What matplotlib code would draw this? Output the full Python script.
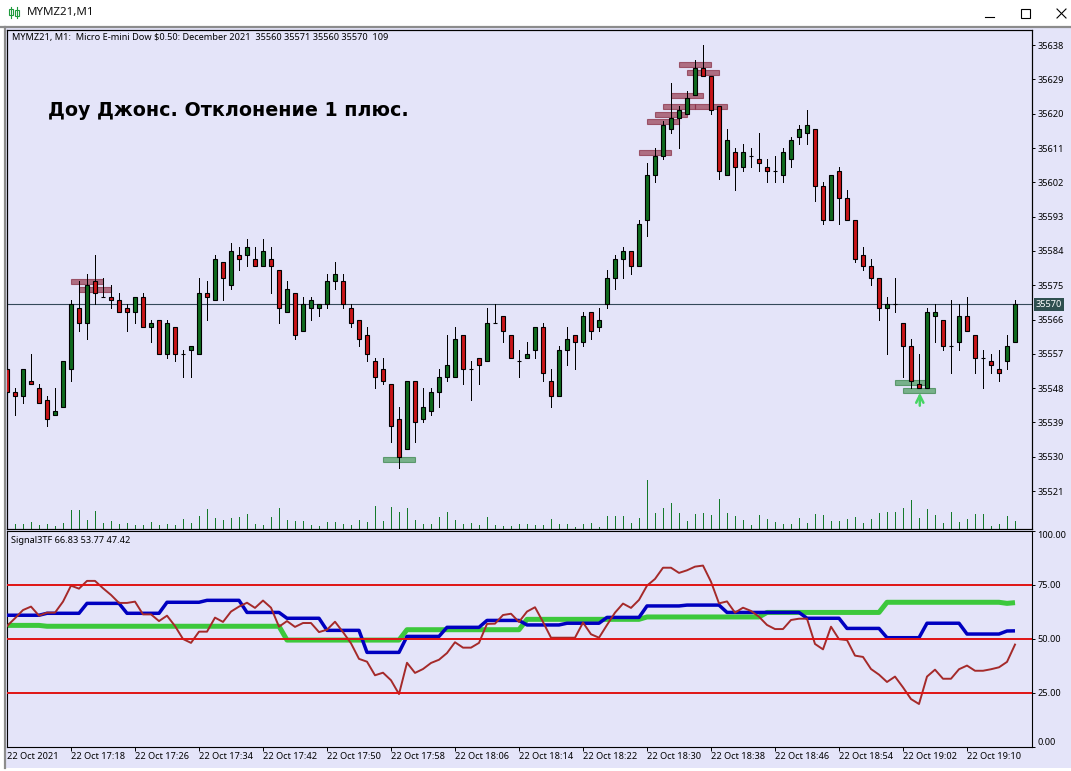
import matplotlib
matplotlib.use('Agg')
import matplotlib.pyplot as plt
from matplotlib.patches import Rectangle

plt.rcParams['font.family'] = ['Noto Sans', 'DejaVu Sans']

# candles, one per minute
opens = [35553, 35547, 35546, 35550, 35548, 35545, 35541, 35543, 35553, 35569,
         35565, 35576, 35572, 35572, 35571, 35569, 35568, 35572, 35564, 35566,
         35557, 35564, 35557, 35558, 35557, 35573, 35571, 35581, 35575, 35583,
         35583, 35582, 35580, 35582, 35579, 35568, 35573, 35563, 35569, 35569,
         35570, 35576, 35576, 35569, 35566, 35562, 35555, 35553, 35549, 35540,
         35532, 35550, 35540, 35542, 35547, 35551, 35551, 35562, 35553, 35556,
         35555, 35565, 35567, 35562, 35555, 35556, 35558, 35564, 35550, 35546,
         35558, 35562, 35560, 35568, 35564, 35570, 35577, 35582, 35584, 35580,
         35592, 35604, 35609, 35616, 35619, 35620, 35625, 35632, 35630, 35622,
         35604, 35610, 35606, 35609, 35608, 35606, 35605, 35604, 35608, 35614,
         35615, 35616, 35601, 35592, 35605, 35598, 35592, 35583, 35580, 35577,
         35569, 35570, 35565, 35559, 35549, 35548, 35567, 35566, 35559, 35560,
         35567, 35562, 35556, 35555, 35553, 35555, 35560]
highs = [35553, 35548, 35553, 35557, 35549, 35546, 35548, 35555, 35571, 35576,
         35578, 35583, 35577, 35575, 35573, 35570, 35572, 35573, 35566, 35566,
         35566, 35564, 35558, 35559, 35577, 35576, 35583, 35581, 35586, 35585,
         35587, 35585, 35587, 35585, 35579, 35576, 35573, 35572, 35572, 35570,
         35578, 35581, 35578, 35570, 35566, 35564, 35556, 35556, 35549, 35543,
         35550, 35550, 35548, 35548, 35553, 35562, 35564, 35562, 35555, 35556,
         35569, 35570, 35567, 35562, 35558, 35560, 35564, 35565, 35553, 35559,
         35564, 35562, 35568, 35568, 35569, 35579, 35583, 35585, 35584, 35592,
         35607, 35611, 35618, 35628, 35622, 35626, 35634, 35638, 35630, 35622,
         35616, 35611, 35612, 35611, 35615, 35608, 35609, 35611, 35614, 35617,
         35621, 35616, 35602, 35604, 35606, 35600, 35592, 35585, 35582, 35577,
         35572, 35577, 35565, 35561, 35557, 35569, 35570, 35566, 35571, 35570,
         35572, 35562, 35558, 35557, 35558, 35562, 35571]
lows = [35547, 35541, 35544, 35549, 35544, 35538, 35541, 35543, 35550, 35563,
        35561, 35570, 35572, 35569, 35568, 35563, 35565, 35564, 35560, 35557,
        35556, 35555, 35551, 35551, 35557, 35566, 35571, 35571, 35574, 35579,
        35580, 35580, 35580, 35573, 35565, 35568, 35561, 35563, 35566, 35567,
        35569, 35574, 35569, 35564, 35559, 35555, 35548, 35549, 35534, 35527,
        35532, 35534, 35539, 35541, 35543, 35550, 35551, 35549, 35545, 35549,
        35555, 35565, 35560, 35556, 35551, 35556, 35556, 35550, 35543, 35546,
        35554, 35553, 35559, 35561, 35563, 35569, 35574, 35577, 35578, 35580,
        35588, 35602, 35608, 35615, 35611, 35620, 35625, 35630, 35620, 35603,
        35604, 35600, 35605, 35606, 35605, 35602, 35602, 35602, 35606, 35612,
        35612, 35597, 35591, 35592, 35591, 35592, 35581, 35579, 35575, 35566,
        35557, 35568, 35551, 35548, 35548, 35548, 35560, 35558, 35552, 35558,
        35563, 35552, 35548, 35552, 35550, 35553, 35560]
closes = [35547, 35546, 35553, 35549, 35544, 35540, 35542, 35555, 35570, 35565,
          35575, 35573, 35572, 35571, 35568, 35568, 35572, 35564, 35565, 35557,
          35565, 35557, 35557, 35559, 35573, 35572, 35582, 35577, 35584, 35582,
          35585, 35580, 35584, 35580, 35569, 35574, 35562, 35570, 35571, 35570,
          35576, 35578, 35570, 35565, 35561, 35557, 35551, 35550, 35538, 35530,
          35550, 35539, 35543, 35547, 35551, 35554, 35561, 35553, 35553, 35554,
          35565, 35565, 35563, 35556, 35555, 35557, 35564, 35552, 35546, 35558,
          35561, 35560, 35567, 35563, 35566, 35577, 35582, 35584, 35580, 35591,
          35604, 35609, 35617, 35619, 35621, 35624, 35632, 35630, 35621, 35605,
          35613, 35606, 35610, 35609, 35607, 35605, 35605, 35610, 35613, 35616,
          35617, 35601, 35592, 35604, 35598, 35592, 35582, 35580, 35577, 35569,
          35570, 35570, 35559, 35550, 35548, 35568, 35568, 35559, 35559, 35567,
          35563, 35556, 35556, 35554, 35552, 35559, 35570]
volumes = [68, 68, 68, 100, 54, 68, 45, 82, 263, 263,
           123, 245, 82, 109, 68, 82, 54, 54, 100, 54,
           68, 54, 136, 82, 177, 277, 154, 123, 154, 168,
           209, 68, 54, 168, 291, 123, 109, 109, 54, 45,
           100, 100, 68, 54, 123, 100, 313, 113, 304, 236,
           291, 123, 68, 68, 168, 236, 123, 68, 86, 54,
           168, 54, 45, 45, 68, 68, 54, 54, 141, 68,
           68, 32, 68, 82, 32, 177, 177, 177, 82, 154,
           672, 222, 291, 359, 222, 109, 204, 218, 191, 409,
           218, 177, 123, 54, 191, 136, 95, 68, 68, 150,
           82, 204, 191, 109, 109, 136, 163, 82, 136, 218,
           232, 232, 286, 395, 150, 272, 191, 82, 232, 95,
           136, 204, 204, 41, 68, 177, 109]

# Signal3TF lines
slow_line = [56.3, 56.3, 56.3, 56.3, 56.3, 55.9, 55.9, 55.9, 55.9, 55.9,
             55.9, 55.9, 55.9, 55.9, 55.9, 55.9, 55.9, 55.9, 55.9, 55.9,
             55.9, 55.9, 55.9, 55.9, 55.9, 55.9, 55.9, 55.9, 55.9, 55.9,
             55.9, 55.9, 55.9, 55.9, 55.9, 49.5, 49.5, 49.5, 49.5, 49.5,
             49.5, 49.5, 49.5, 49.5, 49.5, 49.5, 49.5, 49.5, 49.5, 49.5,
             54.3, 54.3, 54.3, 54.3, 54.3, 54.3, 54.3, 54.3, 54.3, 54.3,
             54.3, 54.3, 54.3, 54.3, 54.3, 59.1, 59.1, 59.1, 59.1, 59.1,
             59.1, 59.1, 59.1, 59.1, 59.1, 59.1, 59.1, 59.1, 59.1, 59.1,
             60.2, 60.2, 60.2, 60.2, 60.2, 60.2, 60.2, 60.2, 60.2, 60.2,
             60.2, 60.2, 60.2, 60.2, 60.2, 62.3, 62.3, 62.3, 62.3, 62.3,
             62.3, 62.3, 62.3, 62.3, 62.3, 62.3, 62.3, 62.3, 62.3, 62.3,
             67.0, 67.0, 67.0, 67.0, 67.0, 67.0, 67.0, 67.0, 67.0, 67.0,
             67.0, 67.0, 67.0, 67.0, 67.0, 66.5, 66.83]
mid_line = [61.0, 61.0, 61.0, 61.0, 61.0, 61.9, 61.9, 61.9, 61.9, 61.9,
            66.5, 66.5, 66.5, 66.5, 66.5, 61.9, 61.9, 61.9, 61.9, 61.9,
            67.0, 67.0, 67.0, 67.0, 67.0, 67.9, 67.9, 67.9, 67.9, 67.9,
            62.3, 62.3, 62.3, 62.3, 62.3, 59.6, 59.6, 59.6, 59.6, 59.6,
            54.0, 54.0, 54.0, 54.0, 54.0, 43.8, 43.8, 43.8, 43.8, 43.8,
            51.2, 51.2, 51.2, 51.2, 51.2, 55.4, 55.4, 55.4, 55.4, 55.4,
            58.6, 58.6, 58.6, 58.6, 58.6, 56.5, 56.5, 56.5, 56.5, 56.5,
            57.3, 57.3, 57.3, 57.3, 57.3, 60.0, 60.0, 60.0, 60.0, 60.0,
            65.3, 65.3, 65.3, 65.3, 65.3, 65.7, 65.7, 65.7, 65.7, 65.7,
            62.3, 62.3, 62.3, 62.3, 62.3, 62.3, 62.3, 62.3, 62.3, 62.3,
            59.6, 59.6, 59.6, 59.6, 59.6, 54.9, 54.9, 54.9, 54.9, 54.9,
            50.6, 50.6, 50.6, 50.6, 50.6, 57.3, 57.3, 57.3, 57.3, 57.3,
            52.3, 52.3, 52.3, 52.3, 52.3, 53.7, 53.77]
fast_line = [56.0, 59.6, 63.4, 65.0, 60.8, 62.2, 62.2, 67.3, 74.7, 73.3,
             76.9, 76.9, 73.5, 70.4, 66.7, 66.7, 67.3, 61.4, 61.4, 58.3,
             60.8, 56.0, 50.0, 48.2, 53.4, 53.4, 59.9, 57.9, 62.7, 65.0,
             66.8, 64.4, 67.8, 64.5, 55.7, 58.3, 55.6, 57.4, 57.4, 53.2,
             54.3, 58.0, 53.2, 48.0, 40.8, 39.5, 33.2, 34.4, 30.9, 24.5,
             39.0, 34.3, 36.1, 38.9, 40.4, 43.5, 48.5, 46.0, 46.0, 48.2,
             57.0, 57.1, 61.1, 61.7, 57.9, 62.7, 64.7, 57.9, 50.6, 50.6,
             50.6, 50.6, 57.6, 52.2, 50.6, 56.5, 62.2, 66.4, 64.4, 68.1,
             74.7, 77.8, 83.0, 83.0, 80.6, 81.8, 83.5, 84.0, 76.5, 66.5,
             67.4, 62.2, 64.5, 63.0, 60.3, 56.5, 54.6, 54.6, 58.8, 59.4,
             59.4, 47.7, 45.2, 55.7, 49.9, 49.5, 42.3, 41.7, 36.1, 33.5,
             30.1, 32.6, 27.6, 22.2, 19.9, 32.6, 35.8, 31.6, 31.6, 36.0,
             37.7, 35.3, 35.3, 36.0, 36.9, 39.4, 47.42]
levels = [25, 50, 75]

# marked zones: first candle and price
sell_starts = [8, 9, 79, 80, 81, 82, 83, 84, 85, 86]
sell_prices = [35575.9, 35573.8, 35609.8, 35618, 35619.8, 35621.9, 35624.8, 35632.9, 35630.8, 35621.9]
buy_starts = [47, 111, 112]
buy_prices = [35529.3, 35549.5, 35547.4]

price_ticks = [35638, 35629, 35620, 35611, 35602, 35593, 35584, 35575,
               35566, 35557, 35548, 35539, 35530, 35521]
signal_ticks = [0, 25, 50, 75, 100]
time_ticks = [0, 8, 16, 24, 32, 40, 48, 56, 64, 72, 80, 88, 96, 104, 112, 120]
time_labels = ['22 Oct 2021', '22 Oct 17:18', '22 Oct 17:26', '22 Oct 17:34',
               '22 Oct 17:42', '22 Oct 17:50', '22 Oct 17:58', '22 Oct 18:06',
               '22 Oct 18:14', '22 Oct 18:22', '22 Oct 18:30', '22 Oct 18:38',
               '22 Oct 18:46', '22 Oct 18:54', '22 Oct 19:02', '22 Oct 19:10']
last_price = 35570

BG = '#e4e4f9'
UP = '#0f6a1e'
DOWN = '#c81518'
SMALL = 6.6

fig = plt.figure(figsize=(10.71, 7.71), dpi=100, facecolor='white')

# window around the chart, in pixels
win = fig.add_axes([0, 0, 1, 1])
win.set_xlim(0, 1071)
win.set_ylim(771, 0)
win.axis('off')
win.add_patch(Rectangle((4, 27), 1067, 741, fc=BG, ec='none'))
win.plot([0, 1071], [27, 27], color='#8c8c8c', lw=1.6)
win.plot([5, 5], [27, 768], color='#8c8c8c', lw=1.6)
win.text(27, 12, 'MYMZ21,M1', fontsize=8.3, va='center', ha='left', color='#111111')
# little candle icon
win.plot([11, 11], [7, 18], color='#1f9a3c', lw=0.8)
win.plot([17, 17], [7, 18], color='#1f9a3c', lw=0.8)
win.add_patch(Rectangle((9, 9), 4, 6, fc='white', ec='#1f9a3c', lw=0.8))
win.add_patch(Rectangle((15, 10), 4, 6, fc='white', ec='#1f9a3c', lw=0.8))
# minimise, maximise, close
win.plot([985, 994], [17, 17], color='black', lw=0.8)
win.add_patch(Rectangle((1021, 9), 9, 9, fc='none', ec='black', lw=0.8))
win.plot([1057, 1066], [9, 18], color='black', lw=0.8)
win.plot([1057, 1066], [18, 9], color='black', lw=0.8)

# price pane
ax = fig.add_axes([7 / 1071, (771 - 529) / 771, 1025 / 1071, 499 / 771], facecolor=BG)
ax.set_xlim(0, 128.125)
ax.set_ylim(35511.05, 35641.96)

# volumes share the pane with their own scale
vol = ax.twinx()
vol.set_ylim(0, 6786)
vol.set_yticks([])
vol.vlines(range(len(volumes)), 0, volumes, color='#157a2c', lw=0.5, antialiased=False)
ax.set_zorder(vol.get_zorder() + 1)
ax.patch.set_visible(False)
vol.patch.set_visible(True)
vol.patch.set_facecolor(BG)
ax.yaxis.tick_right()

ax.axhline(last_price, color='#34495a', lw=0.8, zorder=1)
ax.barh(sell_prices, 4, left=sell_starts, height=1.4, facecolor='#983c50',
        edgecolor='#862c42', alpha=0.7, lw=0.8, zorder=2)
ax.barh(buy_prices, 4, left=buy_starts, height=1.4, facecolor='#3f9650',
        edgecolor='#2e7d3e', alpha=0.65, lw=0.8, zorder=2)

# candles
for i in range(len(opens)):
    color = UP if closes[i] >= opens[i] else DOWN
    ax.vlines(i, lows[i], highs[i], color='black', lw=0.5, zorder=3, antialiased=False)
    ax.bar(i, abs(closes[i] - opens[i]), bottom=min(opens[i], closes[i]), width=0.6,
           facecolor=color, edgecolor='black', lw=0.8, zorder=4)

ax.annotate('', xy=(114.1, 35546.8), xytext=(114.1, 35543.4),
            arrowprops=dict(arrowstyle='->', color='#46d464', lw=1.8, shrinkA=0, shrinkB=0,
                            mutation_scale=13),
            zorder=5)

ax.set_xticks([])
ax.set_yticks(price_ticks)
ax.tick_params(axis='y', length=2.5, width=0.7, pad=1.5, labelsize=SMALL)
ax.text(128.6, last_price, str(last_price), color='white', fontsize=SMALL,
        va='center', ha='left', clip_on=False, zorder=6,
        bbox=dict(facecolor='#2f4f4f', edgecolor='none', pad=1.6))
ax.text(0.6, 35641.96 - 1.9, 'MYMZ21, M1:  Micro E-mini Dow $0.50: December 2021  35560 35571 35560 35570  109',
        fontsize=SMALL, va='center', ha='left', zorder=6)
ax.text(5.1, 35620.9, 'Доу Джонс. Отклонение 1 плюс.', family='DejaVu Sans',
        fontweight='bold', fontsize=13.65, va='center', ha='left', color='black', zorder=6)

# indicator pane
sig = fig.add_axes([7 / 1071, (771 - 747) / 771, 1025 / 1071, 216 / 771], facecolor=BG)
sig.set_xlim(0, 128.125)
sig.set_ylim(0, 100)
x_vals = list(range(len(fast_line)))
sig.plot(x_vals, slow_line, color='#3cc83c', lw=3.6, zorder=2, solid_capstyle='butt')
sig.plot(x_vals, mid_line, color='#0000c0', lw=2.5, zorder=3, solid_capstyle='butt')
sig.plot(x_vals, fast_line, color='#a52a2a', lw=1.4, zorder=4)
for level in levels:
    sig.axhline(level, color='#e01414', lw=1.4, zorder=5)

sig.yaxis.tick_right()
sig.set_yticks(signal_ticks)
sig.set_yticklabels(['%.2f' % t for t in signal_ticks])
sig.get_yticklabels()[0].set_va('bottom')
sig.get_yticklabels()[-1].set_va('top')
sig.tick_params(axis='y', length=2.5, width=0.7, pad=1.5, labelsize=SMALL)

sig.set_xticks(time_ticks)
sig.set_xticklabels(time_labels, ha='left')
sig.tick_params(axis='x', length=3, width=0.7, pad=0.8, labelsize=SMALL)
sig.xaxis.get_major_ticks()[0].tick1line.set_visible(False)
sig.text(0.5, 95.5, 'Signal3TF 66.83 53.77 47.42', fontsize=SMALL, va='center', ha='left', zorder=6)

for a in [ax, vol, sig]:
    for spine in a.spines.values():
        spine.set_linewidth(0.8)

fig.savefig('out.png', dpi=100)
